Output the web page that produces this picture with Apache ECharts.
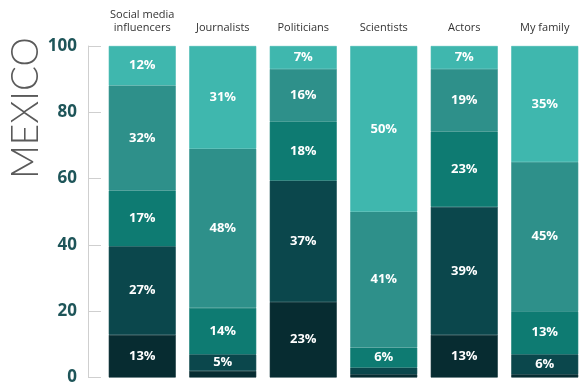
<!DOCTYPE html>
<html>
<head>
<meta charset="utf-8">
<script src="https://cdn.jsdelivr.net/npm/echarts@6/dist/echarts.min.js"></script>
<style>
  html, body { margin: 0; padding: 0; background: #ffffff; }
  #chart { width: 585px; height: 386px; }
</style>
</head>
<body>
<div id="chart"></div>
<script>
// Who people trust: share of answers per group (percent), bottom to top
const categories = ['Social media\ninfluencers', 'Journalists', 'Politicians', 'Scientists', 'Actors', 'My family'];
const level1 = [13, 2, 23, 1, 13, 1];   // darkest band
const level2 = [27, 5, 37, 2, 39, 6];
const level3 = [17, 14, 18, 6, 23, 13];
const level4 = [32, 48, 16, 41, 19, 45];
const level5 = [12, 31, 7, 50, 7, 35];  // lightest band
const yTicks = [0, 20, 40, 60, 80, 100];

const levels = [level1, level2, level3, level4, level5];
const colors = ['#072c31', '#0b474c', '#0e7b72', '#2e908a', '#3fb7ae'];

// Each column is drawn as a 100% stack: shares are scaled by the column total
const totals = categories.map((_, i) => levels.reduce((s, arr) => s + arr[i], 0));

const series = levels.map((arr, k) => ({
  type: 'bar',
  stack: 'all',
  barWidth: 67,
  // a border in the fill colour closes the hairline seams between bands
  itemStyle: { color: colors[k], borderColor: colors[k], borderWidth: 0.6 },
  data: arr.map((v, i) => ({ value: v / totals[i] * 100, raw: v })),
  label: {
    show: true,
    position: 'inside',
    color: '#ffffff',
    fontFamily: 'Open Sans',
    fontWeight: 'bold',
    fontSize: 13,
    formatter: p => (p.data.raw >= 5 ? p.data.raw + '%' : '')
  },
  emphasis: { disabled: true }
}));

const chart = echarts.init(document.getElementById('chart'), null, { renderer: 'canvas' });
chart.setOption({
  animation: false,
  backgroundColor: '#ffffff',
  grid: { left: 102, right: -3, top: 46, bottom: 5, containLabel: false },
  xAxis: {
    type: 'category',
    position: 'top',
    data: categories,
    axisLine: { show: false },
    axisTick: { show: false },
    axisLabel: {
      interval: 0,
      margin: 12,
      color: '#333333',
      fontFamily: 'Open Sans',
      fontSize: 11,
      lineHeight: 13
    }
  },
  yAxis: {
    type: 'value',
    min: yTicks[0],
    max: yTicks[yTicks.length - 1],
    interval: 20,
    offset: 14,
    splitLine: { show: false },
    axisLine: { show: true, lineStyle: { color: '#cfcfcf', width: 1 } },
    axisTick: { show: true, inside: true, length: 13, lineStyle: { color: '#cfcfcf' } },
    axisLabel: {
      margin: 11,
      color: '#1e5559',
      fontFamily: 'Open Sans',
      fontWeight: 'bold',
      fontSize: 17
    }
  },
  graphic: [{
    type: 'text',
    x: 26,
    y: 108,
    rotation: Math.PI / 2,
    style: {
      text: 'MEXICO',
      fontFamily: 'Lato',
      fontWeight: 300,
      fontSize: 37,
      fill: '#5a5a5a',
      align: 'center',
      verticalAlign: 'middle'
    }
  }],
  series: series
});
</script>
</body>
</html>
